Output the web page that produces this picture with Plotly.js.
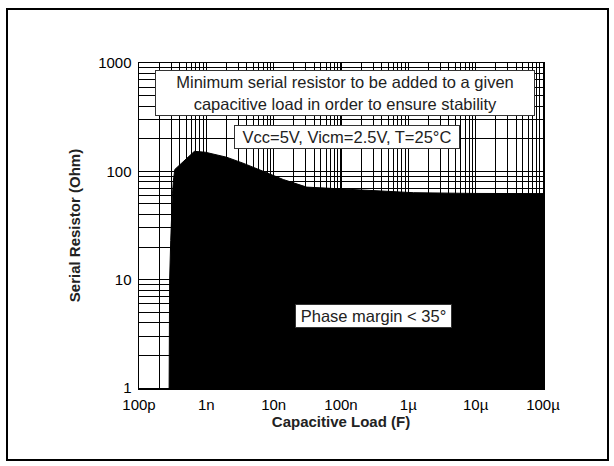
<!DOCTYPE html>
<html>
<head>
<meta charset="utf-8">
<script src="https://cdn.plot.ly/plotly-3.0.1.min.js"></script>
<style>html,body{margin:0;padding:0;background:#fff;}</style>
</head>
<body>
<div id="chart" style="width:614px;height:466px;"></div>
<script>
// Boundary of the unstable region (capacitive load in F, serial resistor in Ohm)
const capLoad = [2.80e-10, 2.85e-10, 2.96e-10, 3.07e-10, 3.14e-10, 3.25e-10, 3.40e-10,
                 6.65e-10, 9.70e-10, 2.0e-9, 3.5e-9, 7.0e-9, 1.39e-8, 3.1e-8,
                 1.0e-7, 3.0e-7, 1.2e-6, 1.0e-5, 1.0e-4, 1.0e-4, 2.80e-10];
const serialRes = [1, 10, 23, 47, 62, 83, 104,
                   153, 150, 135, 119, 100, 84, 71.5,
                   68.5, 66.5, 63.5, 62.5, 62.3, 1, 1];

const xTickVals = [1e-10, 1e-9, 1e-8, 1e-7, 1e-6, 1e-5, 1e-4];
const xTickText = ['100p', '1n', '10n', '100n', '1\u00b5', '10\u00b5', '100\u00b5'];
const yTickVals = [1, 10, 100, 1000];
const yTickText = ['1', '10', '100', '1000'];
const minorMultipliers = [2, 3, 4, 5, 6, 7, 8, 9];

function minorVals(decades) {
  const out = [];
  decades.forEach(d => minorMultipliers.forEach(m => out.push(d * m)));
  return out;
}

const FONT = 'Liberation Sans, Arial, Helvetica, sans-serif';

const trace = {
  x: capLoad,
  y: serialRes,
  type: 'scatter',
  mode: 'lines',
  fill: 'toself',
  fillcolor: '#000000',
  line: {color: '#000000', width: 1},
  hoverinfo: 'skip',
  showlegend: false
};

const gridCommon = {
  showgrid: true,
  gridcolor: '#000000',
  gridwidth: 1.5,
  showline: true,
  mirror: true,
  linecolor: '#000000',
  linewidth: 1.5,
  ticks: '',
  zeroline: false,
  tickfont: {family: FONT, size: 15, color: '#000'}
};

const layout = {
  width: 614,
  height: 466,
  margin: {l: 139, r: 71, t: 63, b: 78},
  paper_bgcolor: '#ffffff',
  plot_bgcolor: '#ffffff',
  font: {family: FONT, color: '#000'},
  showlegend: false,
  xaxis: Object.assign({}, gridCommon, {
    type: 'log',
    range: [-10, -4],
    tickmode: 'array',
    tickvals: xTickVals,
    ticktext: xTickText,
    ticklabelstandoff: 2,
    minor: {tickmode: 'array', tickvals: minorVals(xTickVals.slice(0, -1)),
            showgrid: true, gridcolor: '#000', gridwidth: 1, ticks: ''},
    title: {text: '<b>Capacitive Load (F)</b>', font: {family: FONT, size: 15, color: '#222'}, standoff: 0}
  }),
  yaxis: Object.assign({}, gridCommon, {
    type: 'log',
    range: [0, 3],
    tickmode: 'array',
    tickvals: yTickVals,
    ticktext: yTickText,
    ticklabelstandoff: 3,
    minor: {tickmode: 'array', tickvals: minorVals(yTickVals.slice(0, -1)),
            showgrid: true, gridcolor: '#000', gridwidth: 1, ticks: ''},
    title: {text: '<b>Serial Resistor (Ohm)</b>', font: {family: FONT, size: 15, color: '#222'}, standoff: 14}
  }),
  annotations: [
    {
      xref: 'paper', yref: 'paper', x: 0.510, y: 0.909,
      xanchor: 'center', yanchor: 'middle', showarrow: false,
      text: 'Minimum serial resistor to be added to a given<br>capacitive load in order to ensure stability',
      font: {family: FONT, size: 16.5, color: '#222'},
      align: 'center', width: 376, height: 42,
      bgcolor: '#ffffff', bordercolor: '#333', borderwidth: 1, borderpad: 1
    },
    {
      xref: 'paper', yref: 'paper', x: 0.516, y: 0.771,
      xanchor: 'center', yanchor: 'middle', showarrow: false,
      text: 'Vcc=5V, Vicm=2.5V, T=25\u00b0C',
      font: {family: FONT, size: 16.5, color: '#222'},
      align: 'center', width: 222, height: 20,
      bgcolor: '#ffffff', bordercolor: '#333', borderwidth: 1, borderpad: 1
    },
    {
      xref: 'paper', yref: 'paper', x: 0.580, y: 0.223,
      xanchor: 'center', yanchor: 'middle', showarrow: false,
      text: 'Phase margin &lt; 35\u00b0',
      font: {family: FONT, size: 16.5, color: '#222'},
      align: 'center', width: 153, height: 20,
      bgcolor: '#ffffff', bordercolor: '#333', borderwidth: 1, borderpad: 1
    }
  ],
  shapes: [
    {
      type: 'rect', xref: 'paper', yref: 'paper',
      x0: (7 - 139) / 404, x1: (608 - 139) / 404,
      y0: (388 - 460) / 325, y1: (388 - 9) / 325,
      line: {color: '#000', width: 2}, fillcolor: 'rgba(0,0,0,0)', layer: 'below'
    }
  ]
};

Plotly.newPlot('chart', [trace], layout, {displayModeBar: false, staticPlot: true});
</script>
</body>
</html>
